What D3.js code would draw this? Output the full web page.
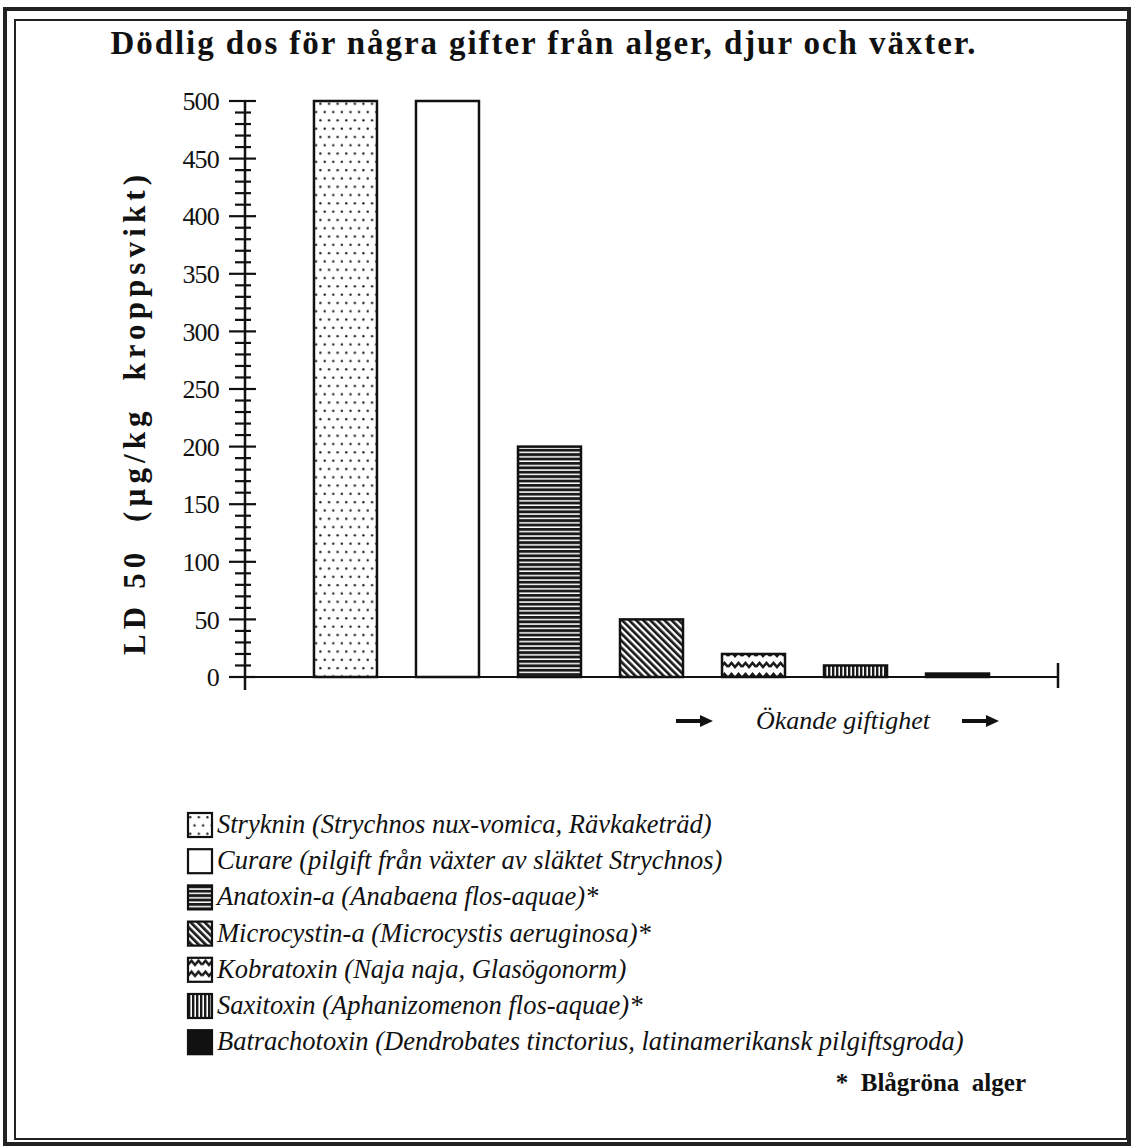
<!DOCTYPE html>
<html>
<head>
<meta charset="utf-8">
<script src="https://cdn.jsdelivr.net/npm/d3@7"></script>
<style>
  body { margin: 0; background: #fff; }
  text { font-family: "Liberation Serif", "Times New Roman", serif; fill: #111; }
</style>
</head>
<body>
<svg></svg>
<script>
var viewWidth = 1133;
var viewHeight = 1148;

var toxins = ["Stryknin", "Curare", "Anatoxin-a", "Microcystin-a", "Kobratoxin", "Saxitoxin", "Batrachotoxin"];
var ld50 = [500, 500, 200, 50, 20, 10, 3];
var legendLabels = [
    "Stryknin (Strychnos nux-vomica, Rävkaketräd)",
    "Curare (pilgift från växter av släktet Strychnos)",
    "Anatoxin-a (Anabaena flos-aquae)*",
    "Microcystin-a (Microcystis aeruginosa)*",
    "Kobratoxin (Naja naja, Glasögonorm)",
    "Saxitoxin (Aphanizomenon flos-aquae)*",
    "Batrachotoxin (Dendrobates tinctorius, latinamerikansk pilgiftsgroda)"
];
var fills = ["url(#dots)", "#fff", "url(#hlines)", "url(#diag)", "url(#wave)", "url(#vlines)", "#111"];
var yTicks = [0, 50, 100, 150, 200, 250, 300, 350, 400, 450, 500];

var svg = d3.select("svg")
    .attr("width", viewWidth)
    .attr("height", viewHeight);

// patterns
var defs = svg.append("defs");
var p = defs.append("pattern").attr("id", "dots").attr("patternUnits", "userSpaceOnUse")
    .attr("width", 8.6).attr("height", 16.6);
p.append("rect").attr("width", 8.6).attr("height", 16.6).attr("fill", "#fff");
p.append("circle").attr("cx", 2.2).attr("cy", 4.2).attr("r", 1.2).attr("fill", "#222");
p.append("circle").attr("cx", 6.5).attr("cy", 12.5).attr("r", 1.2).attr("fill", "#222");

p = defs.append("pattern").attr("id", "hlines").attr("patternUnits", "userSpaceOnUse")
    .attr("width", 10).attr("height", 4.4);
p.append("rect").attr("width", 10).attr("height", 4.4).attr("fill", "#fff");
p.append("rect").attr("width", 10).attr("height", 2.9).attr("fill", "#1a1a1a");

p = defs.append("pattern").attr("id", "diag").attr("patternUnits", "userSpaceOnUse")
    .attr("width", 5).attr("height", 10).attr("patternTransform", "rotate(-45)");
p.append("rect").attr("width", 5).attr("height", 10).attr("fill", "#fff");
p.append("rect").attr("width", 2.7).attr("height", 10).attr("fill", "#1a1a1a");

p = defs.append("pattern").attr("id", "wave").attr("patternUnits", "userSpaceOnUse")
    .attr("width", 14).attr("height", 11);
p.append("rect").attr("width", 14).attr("height", 11).attr("fill", "#fff");
p.append("path").attr("d", "M0,7 L3.5,3 L7,7 L10.5,3 L14,7")
    .attr("fill", "none").attr("stroke", "#1a1a1a").attr("stroke-width", 2.6);

p = defs.append("pattern").attr("id", "vlines").attr("patternUnits", "userSpaceOnUse")
    .attr("width", 4).attr("height", 10);
p.append("rect").attr("width", 4).attr("height", 10).attr("fill", "#fff");
p.append("rect").attr("width", 2.4).attr("height", 10).attr("fill", "#1a1a1a");

// frame
svg.append("rect").attr("x", 5).attr("y", 9).attr("width", 1124).attr("height", 1135)
    .attr("fill", "none").attr("stroke", "#222").attr("stroke-width", 4);
svg.append("rect").attr("x", 15).attr("y", 20).attr("width", 1112).attr("height", 1119)
    .attr("fill", "none").attr("stroke", "#222").attr("stroke-width", 2);

svg.append("text")
    .attr("x", 543).attr("y", 54)
    .attr("text-anchor", "middle")
    .style("font-size", "33px").style("font-weight", "bold")
    .attr("textLength", 865).attr("lengthAdjust", "spacing")
    .text("Dödlig dos för några gifter från alger, djur och växter.");

var x = d3.scalePoint()
    .domain(toxins)
    .range([245, 1058])
    .padding(0.985);

var y = d3.scaleLinear()
    .domain([0, 500])
    .range([677, 101]);

// y axis: major + minor ticks
var yAxis = svg.append("g").attr("transform", "translate(245,0)");
yAxis.append("line").attr("y1", y(500)).attr("y2", 690)
    .attr("stroke", "#111").attr("stroke-width", 2.5);
yAxis.selectAll(".minor")
    .data(d3.range(0, 501, 10).filter(function(d) { return d % 50 != 0; }))
    .enter().append("line")
    .attr("x1", -10).attr("x2", 6)
    .attr("y1", function(d) { return y(d); }).attr("y2", function(d) { return y(d); })
    .attr("stroke", "#111").attr("stroke-width", 2.2);
yAxis.selectAll(".major")
    .data(yTicks)
    .enter().append("line")
    .attr("x1", -16).attr("x2", 11)
    .attr("y1", function(d) { return y(d); }).attr("y2", function(d) { return y(d); })
    .attr("stroke", "#111").attr("stroke-width", 2.2);
yAxis.selectAll(".lbl")
    .data(yTicks)
    .enter().append("text")
    .attr("x", -26)
    .attr("y", function(d) { return y(d); })
    .attr("dy", "0.35em")
    .attr("text-anchor", "end")
    .style("font-size", "26px")
    .style("letter-spacing", "-0.8px")
    .text(function(d) { return d; });

svg.append("text")
    .attr("transform", "translate(145,415) rotate(-90)")
    .attr("text-anchor", "middle")
    .style("font-size", "31px").style("font-weight", "bold")
    .attr("textLength", 480).attr("lengthAdjust", "spacing")
    .attr("xml:space", "preserve")
    .text("LD 50  (µg/kg  kroppsvikt)");

// bars
var barW = 63;
svg.selectAll(".bar")
    .data(ld50)
    .enter().append("rect")
    .attr("x", function(d, i) { return x(toxins[i]) - barW / 2; })
    .attr("y", function(d) { return y(d); })
    .attr("width", barW)
    .attr("height", function(d) { return y(0) - y(d); })
    .attr("fill", function(d, i) { return fills[i]; })
    .attr("stroke", "#111")
    .attr("stroke-width", 2.5);

// x axis line
svg.append("line").attr("x1", 229).attr("x2", 1058).attr("y1", y(0)).attr("y2", y(0))
    .attr("stroke", "#111").attr("stroke-width", 2.2);
svg.append("line").attr("x1", 1058).attr("x2", 1058).attr("y1", 663).attr("y2", 688)
    .attr("stroke", "#111").attr("stroke-width", 2.5);

// arrows
function arrow(x0) {
    svg.append("path")
        .attr("d", "M" + x0 + ",719 L" + (x0 + 24) + ",719 L" + (x0 + 24) + ",715 L" + (x0 + 37) + ",721 L" + (x0 + 24) + ",727 L" + (x0 + 24) + ",723 L" + x0 + ",723 Z")
        .attr("fill", "#111");
}
arrow(676);
arrow(962);
svg.append("text")
    .attr("x", 843).attr("y", 729)
    .attr("text-anchor", "middle")
    .style("font-size", "26px").style("font-style", "italic")
    .text("Ökande giftighet");

// legend
var legend = svg.selectAll(".legend")
    .data(legendLabels)
    .enter().append("g")
    .attr("transform", function(d, i) { return "translate(188," + (813 + i * 36.2) + ")"; });
legend.append("rect")
    .attr("width", 24).attr("height", 24)
    .attr("fill", function(d, i) { return fills[i]; })
    .attr("stroke", "#111").attr("stroke-width", 2.2);
legend.append("text")
    .attr("x", 29).attr("y", 20)
    .style("font-size", "26.5px").style("font-style", "italic")
    .text(function(d) { return d; });

svg.append("text")
    .attr("x", 1026).attr("y", 1091)
    .attr("text-anchor", "end")
    .style("font-size", "25px").style("font-weight", "bold")
    .attr("xml:space", "preserve")
    .text("*  Blågröna  alger");
</script>
</body>
</html>
